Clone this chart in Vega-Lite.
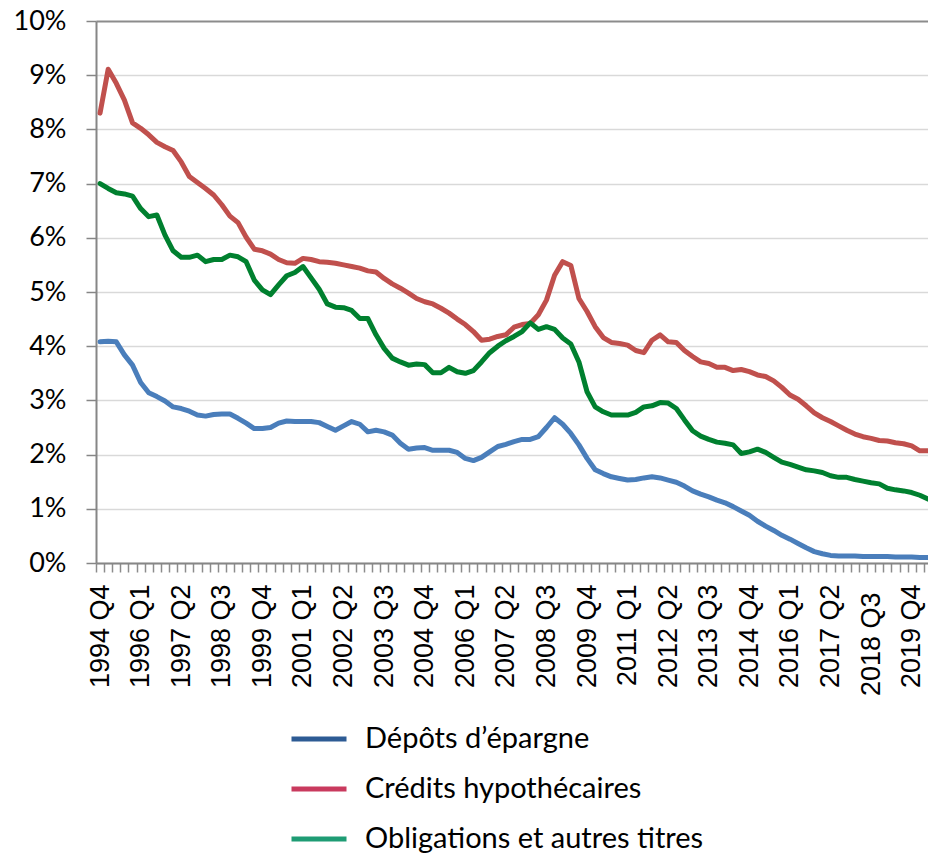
{
  "$schema": "https://vega.github.io/schema/vega-lite/v6.json",
  "autosize": {"type": "none"},
  "width": 832,
  "height": 542,
  "padding": {"left": 96, "top": 21, "right": 0, "bottom": 291},
  "background": "white",
  "config": {
    "view": {"stroke": null},
    "line": {"strokeWidth": 5, "strokeCap": "round", "strokeJoin": "round"}
  },
  "data": {
    "values": [
      {"q": "1994 Q4", "depots": 4.08, "credits": 8.30, "obligations": 7.00},
      {"q": "1995 Q1", "depots": 4.09, "credits": 9.11, "obligations": 6.91},
      {"q": "1995 Q2", "depots": 4.08, "credits": 8.85, "obligations": 6.83},
      {"q": "1995 Q3", "depots": 3.84, "credits": 8.54, "obligations": 6.81},
      {"q": "1995 Q4", "depots": 3.65, "credits": 8.12, "obligations": 6.77},
      {"q": "1996 Q1", "depots": 3.33, "credits": 8.02, "obligations": 6.54},
      {"q": "1996 Q2", "depots": 3.14, "credits": 7.90, "obligations": 6.39},
      {"q": "1996 Q3", "depots": 3.07, "credits": 7.76, "obligations": 6.42},
      {"q": "1996 Q4", "depots": 2.99, "credits": 7.68, "obligations": 6.05},
      {"q": "1997 Q1", "depots": 2.88, "credits": 7.61, "obligations": 5.76},
      {"q": "1997 Q2", "depots": 2.85, "credits": 7.40, "obligations": 5.64},
      {"q": "1997 Q3", "depots": 2.80, "credits": 7.13, "obligations": 5.64},
      {"q": "1997 Q4", "depots": 2.73, "credits": 7.02, "obligations": 5.68},
      {"q": "1998 Q1", "depots": 2.71, "credits": 6.91, "obligations": 5.56},
      {"q": "1998 Q2", "depots": 2.74, "credits": 6.79, "obligations": 5.60},
      {"q": "1998 Q3", "depots": 2.75, "credits": 6.61, "obligations": 5.60},
      {"q": "1998 Q4", "depots": 2.75, "credits": 6.40, "obligations": 5.68},
      {"q": "1999 Q1", "depots": 2.67, "credits": 6.28, "obligations": 5.65},
      {"q": "1999 Q2", "depots": 2.58, "credits": 6.01, "obligations": 5.56},
      {"q": "1999 Q3", "depots": 2.48, "credits": 5.79, "obligations": 5.22},
      {"q": "1999 Q4", "depots": 2.48, "credits": 5.76, "obligations": 5.04},
      {"q": "2000 Q1", "depots": 2.50, "credits": 5.70, "obligations": 4.95},
      {"q": "2000 Q2", "depots": 2.58, "credits": 5.60, "obligations": 5.13},
      {"q": "2000 Q3", "depots": 2.62, "credits": 5.54, "obligations": 5.30},
      {"q": "2000 Q4", "depots": 2.61, "credits": 5.53, "obligations": 5.36},
      {"q": "2001 Q1", "depots": 2.61, "credits": 5.62, "obligations": 5.47},
      {"q": "2001 Q2", "depots": 2.61, "credits": 5.60, "obligations": 5.26},
      {"q": "2001 Q3", "depots": 2.59, "credits": 5.56, "obligations": 5.05},
      {"q": "2001 Q4", "depots": 2.52, "credits": 5.55, "obligations": 4.78},
      {"q": "2002 Q1", "depots": 2.45, "credits": 5.53, "obligations": 4.72},
      {"q": "2002 Q2", "depots": 2.53, "credits": 5.50, "obligations": 4.71},
      {"q": "2002 Q3", "depots": 2.61, "credits": 5.47, "obligations": 4.66},
      {"q": "2002 Q4", "depots": 2.56, "credits": 5.44, "obligations": 4.51},
      {"q": "2003 Q1", "depots": 2.42, "credits": 5.39, "obligations": 4.51},
      {"q": "2003 Q2", "depots": 2.45, "credits": 5.37, "obligations": 4.21},
      {"q": "2003 Q3", "depots": 2.42, "credits": 5.25, "obligations": 3.96},
      {"q": "2003 Q4", "depots": 2.36, "credits": 5.15, "obligations": 3.78},
      {"q": "2004 Q1", "depots": 2.21, "credits": 5.07, "obligations": 3.71},
      {"q": "2004 Q2", "depots": 2.10, "credits": 4.98, "obligations": 3.65},
      {"q": "2004 Q3", "depots": 2.12, "credits": 4.88, "obligations": 3.67},
      {"q": "2004 Q4", "depots": 2.13, "credits": 4.82, "obligations": 3.66},
      {"q": "2005 Q1", "depots": 2.08, "credits": 4.78, "obligations": 3.51},
      {"q": "2005 Q2", "depots": 2.08, "credits": 4.70, "obligations": 3.51},
      {"q": "2005 Q3", "depots": 2.08, "credits": 4.61, "obligations": 3.61},
      {"q": "2005 Q4", "depots": 2.04, "credits": 4.50, "obligations": 3.53},
      {"q": "2006 Q1", "depots": 1.93, "credits": 4.40, "obligations": 3.50},
      {"q": "2006 Q2", "depots": 1.89, "credits": 4.27, "obligations": 3.55},
      {"q": "2006 Q3", "depots": 1.95, "credits": 4.11, "obligations": 3.71},
      {"q": "2006 Q4", "depots": 2.05, "credits": 4.13, "obligations": 3.88},
      {"q": "2007 Q1", "depots": 2.15, "credits": 4.18, "obligations": 4.00},
      {"q": "2007 Q2", "depots": 2.19, "credits": 4.21, "obligations": 4.10},
      {"q": "2007 Q3", "depots": 2.24, "credits": 4.35, "obligations": 4.18},
      {"q": "2007 Q4", "depots": 2.28, "credits": 4.40, "obligations": 4.27},
      {"q": "2008 Q1", "depots": 2.28, "credits": 4.42, "obligations": 4.43},
      {"q": "2008 Q2", "depots": 2.33, "credits": 4.58, "obligations": 4.31},
      {"q": "2008 Q3", "depots": 2.50, "credits": 4.85, "obligations": 4.36},
      {"q": "2008 Q4", "depots": 2.68, "credits": 5.31, "obligations": 4.31},
      {"q": "2009 Q1", "depots": 2.56, "credits": 5.56, "obligations": 4.15},
      {"q": "2009 Q2", "depots": 2.39, "credits": 5.49, "obligations": 4.04},
      {"q": "2009 Q3", "depots": 2.18, "credits": 4.88, "obligations": 3.71},
      {"q": "2009 Q4", "depots": 1.93, "credits": 4.64, "obligations": 3.16},
      {"q": "2010 Q1", "depots": 1.72, "credits": 4.36, "obligations": 2.88},
      {"q": "2010 Q2", "depots": 1.65, "credits": 4.16, "obligations": 2.79},
      {"q": "2010 Q3", "depots": 1.59, "credits": 4.07, "obligations": 2.73},
      {"q": "2010 Q4", "depots": 1.56, "credits": 4.05, "obligations": 2.73},
      {"q": "2011 Q1", "depots": 1.53, "credits": 4.02, "obligations": 2.73},
      {"q": "2011 Q2", "depots": 1.54, "credits": 3.92, "obligations": 2.78},
      {"q": "2011 Q3", "depots": 1.57, "credits": 3.88, "obligations": 2.88},
      {"q": "2011 Q4", "depots": 1.59, "credits": 4.11, "obligations": 2.90},
      {"q": "2012 Q1", "depots": 1.57, "credits": 4.21, "obligations": 2.96},
      {"q": "2012 Q2", "depots": 1.53, "credits": 4.08, "obligations": 2.95},
      {"q": "2012 Q3", "depots": 1.49, "credits": 4.07, "obligations": 2.85},
      {"q": "2012 Q4", "depots": 1.42, "credits": 3.92, "obligations": 2.64},
      {"q": "2013 Q1", "depots": 1.33, "credits": 3.81, "obligations": 2.44},
      {"q": "2013 Q2", "depots": 1.27, "credits": 3.71, "obligations": 2.34},
      {"q": "2013 Q3", "depots": 1.22, "credits": 3.68, "obligations": 2.28},
      {"q": "2013 Q4", "depots": 1.16, "credits": 3.61, "obligations": 2.23},
      {"q": "2014 Q1", "depots": 1.11, "credits": 3.61, "obligations": 2.21},
      {"q": "2014 Q2", "depots": 1.04, "credits": 3.55, "obligations": 2.18},
      {"q": "2014 Q3", "depots": 0.96, "credits": 3.57, "obligations": 2.02},
      {"q": "2014 Q4", "depots": 0.88, "credits": 3.53, "obligations": 2.05},
      {"q": "2015 Q1", "depots": 0.77, "credits": 3.47, "obligations": 2.10},
      {"q": "2015 Q2", "depots": 0.68, "credits": 3.44, "obligations": 2.04},
      {"q": "2015 Q3", "depots": 0.60, "credits": 3.36, "obligations": 1.95},
      {"q": "2015 Q4", "depots": 0.51, "credits": 3.24, "obligations": 1.86},
      {"q": "2016 Q1", "depots": 0.44, "credits": 3.10, "obligations": 1.82},
      {"q": "2016 Q2", "depots": 0.36, "credits": 3.02, "obligations": 1.77},
      {"q": "2016 Q3", "depots": 0.28, "credits": 2.90, "obligations": 1.72},
      {"q": "2016 Q4", "depots": 0.21, "credits": 2.77, "obligations": 1.70},
      {"q": "2017 Q1", "depots": 0.17, "credits": 2.68, "obligations": 1.67},
      {"q": "2017 Q2", "depots": 0.14, "credits": 2.61, "obligations": 1.61},
      {"q": "2017 Q3", "depots": 0.13, "credits": 2.53, "obligations": 1.58},
      {"q": "2017 Q4", "depots": 0.13, "credits": 2.45, "obligations": 1.58},
      {"q": "2018 Q1", "depots": 0.13, "credits": 2.38, "obligations": 1.54},
      {"q": "2018 Q2", "depots": 0.12, "credits": 2.33, "obligations": 1.51},
      {"q": "2018 Q3", "depots": 0.12, "credits": 2.30, "obligations": 1.48},
      {"q": "2018 Q4", "depots": 0.12, "credits": 2.26, "obligations": 1.46},
      {"q": "2019 Q1", "depots": 0.12, "credits": 2.25, "obligations": 1.38},
      {"q": "2019 Q2", "depots": 0.11, "credits": 2.22, "obligations": 1.35},
      {"q": "2019 Q3", "depots": 0.11, "credits": 2.20, "obligations": 1.33},
      {"q": "2019 Q4", "depots": 0.11, "credits": 2.16, "obligations": 1.30},
      {"q": "2020 Q1", "depots": 0.10, "credits": 2.07, "obligations": 1.25},
      {"q": "2020 Q2", "depots": 0.10, "credits": 2.07, "obligations": 1.18}
    ]
  },
  "transform": [
    {"fold": ["depots", "credits", "obligations"], "as": ["serie", "taux"]}
  ],
  "encoding": {
    "x": {
      "field": "q",
      "type": "ordinal",
      "scale": {"type": "band", "paddingInner": 0, "paddingOuter": 0, "range": [0, 836]},
      "axis": {
        "title": null,
        "tickBand": "extent",
        "ticks": true,
        "tickSize": 9,
        "tickColor": "#8c8c8c",
        "tickWidth": 1.5,
        "domainColor": "#868686",
        "domainWidth": 2,
        "grid": false,
        "labelAngle": 270,
        "labelFont": "Liberation Sans",
        "labelFontSize": 27,
        "labelColor": "#000000",
        "labelOverlap": false,
        "labelPadding": {"condition": {"test": "datum.value == '2018 Q3'", "value": 20}, "value": 12},
        "labelExpr": "((toNumber(substring(datum.value, 0, 4)) - 1994) * 4 + toNumber(substring(datum.value, 6, 7)) - 4) % 5 == 0 ? datum.value : ''"
      }
    },
    "y": {
      "field": "taux",
      "type": "quantitative",
      "scale": {"domain": [0, 10], "nice": false},
      "axis": {
        "title": null,
        "values": [0, 1, 2, 3, 4, 5, 6, 7, 8, 9, 10],
        "labelExpr": "datum.value + '%'",
        "labelFont": "Lato",
        "labelFontSize": 27,
        "labelColor": "#000000",
        "labelPadding": 20,
        "tickSize": 10,
        "tickColor": "#868686",
        "tickWidth": 1.5,
        "domainColor": "#868686",
        "domainWidth": 2,
        "grid": true,
        "gridColor": {"condition": {"test": "datum.value == 10", "value": "#8c8c8c"}, "value": "#d9d9d9"},
        "gridWidth": {"condition": {"test": "datum.value == 10", "value": 2}, "value": 1.5}
      }
    }
  },
  "layer": [
    {
      "mark": {"type": "line"},
      "encoding": {
        "detail": {"field": "serie", "type": "nominal"},
        "stroke": {
          "condition": [
            {"test": "datum.serie == 'depots'", "value": "#4a7ebb"},
            {"test": "datum.serie == 'credits'", "value": "#c0504d"}
          ],
          "value": "#00802f"
        }
      }
    },
    {
      "mark": {"type": "line", "strokeOpacity": 0},
      "encoding": {
        "color": {
          "field": "serie",
          "type": "nominal",
          "scale": {"domain": ["depots", "credits", "obligations"], "range": ["#2d5b94", "#c93a5e", "#1e9c74"]},
          "legend": {
            "title": null,
            "orient": "none",
            "legendX": 193,
            "legendY": 688,
            "direction": "vertical",
            "padding": 0,
            "symbolType": "stroke",
            "symbolSize": 3025,
            "symbolStrokeWidth": 4,
            "symbolOpacity": 1,
            "labelFont": "Lato",
            "labelFontSize": 29,
            "labelColor": "#000000",
            "labelOffset": 16,
            "rowPadding": 5,
            "labelLimit": 600,
            "labelExpr": "datum.value == 'depots' ? 'Dépôts d’épargne' : datum.value == 'credits' ? 'Crédits hypothécaires' : 'Obligations et autres titres'",
            "encode": {"symbols": {"update": {"strokeOpacity": {"value": 1}, "opacity": {"value": 1}}}}
          }
        }
      }
    }
  ]
}
